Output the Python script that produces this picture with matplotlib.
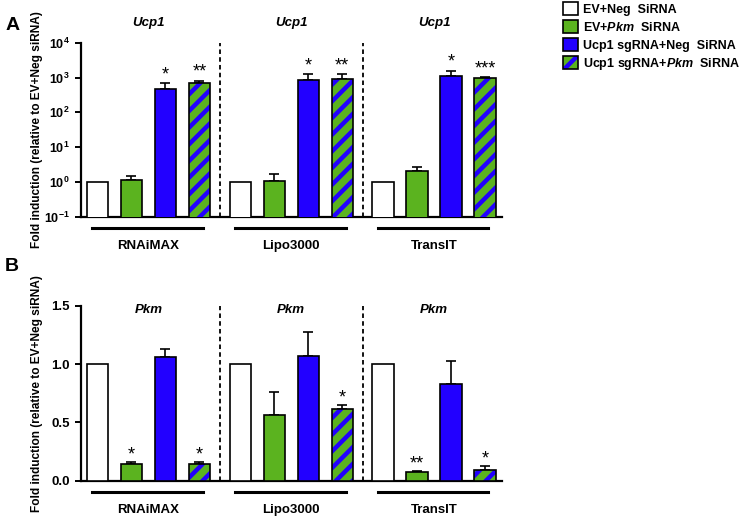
import numpy as np
import matplotlib
matplotlib.use('Agg')
import matplotlib.pyplot as plt
from matplotlib.patches import Patch
from matplotlib.legend_handler import HandlerTuple

plt.rcParams['font.family'] = ['Liberation Sans', 'DejaVu Sans']
plt.rcParams['mathtext.fontset'] = 'custom'
plt.rcParams['mathtext.rm'] = 'Liberation Sans:bold'
plt.rcParams['mathtext.bf'] = 'Liberation Sans:bold'
plt.rcParams['mathtext.it'] = 'Liberation Sans:italic:bold'
plt.rcParams['hatch.linewidth'] = 3.2
plt.rcParams['hatch.color'] = '#2200FF'

groups = ['RNAiMAX', 'Lipo3000', 'TransIT']
series = ['EV+Neg  SiRNA', r'EV+$\mathit{Pkm}$  SiRNA',
          'Ucp1 sgRNA+Neg  SiRNA', r'Ucp1 sgRNA+$\mathit{Pkm}$  SiRNA']

# Ucp1 expression (panel A), mean and SEM per group
ucp1_mean = [[1.0, 1.13, 468, 680],
             [1.0, 1.06, 850, 925],
             [1.0, 2.0, 1100, 985]]
ucp1_sem = [[0, 0.35, 212, 130],
            [0, 0.65, 410, 300],
            [0, 0.7, 480, 25]]
ucp1_stars = [['', '', '*', '**'],
              ['', '', '*', '**'],
              ['', '', '*', '***']]

# Pkm expression (panel B)
pkm_mean = [[1.0, 0.143, 1.063, 0.143],
            [1.0, 0.563, 1.069, 0.614],
            [1.0, 0.072, 0.829, 0.094]]
pkm_sem = [[0, 0.02, 0.065, 0.017],
           [0, 0.2, 0.208, 0.037],
           [0, 0.011, 0.2, 0.034]]
pkm_stars = [['', '*', '', '*'],
             ['', '', '', '*'],
             ['', '**', '', '*']]

GREEN = '#5BB31F'
BLUE = '#2200FF'
group_gap = 4.2
width = 0.62


def panel(ax, mean, sem, stars, gene, title_y, star_off):
	for g in range(len(groups)):
		x0 = g * group_gap
		xs = x0 + np.arange(4)
		m = mean[g]
		ax.bar(xs[0], m[0], width, color='white', edgecolor='black', lw=1.2, zorder=3)
		ax.bar(xs[1], m[1], width, color=GREEN, edgecolor='black', lw=1.2, zorder=3)
		ax.bar(xs[2], m[2], width, color=BLUE, edgecolor='black', lw=1.2, zorder=3)
		ax.bar(xs[3], m[3], width, color=GREEN, edgecolor=BLUE, hatch='//', lw=0, zorder=3)
		ax.bar(xs[3], m[3], width, color='none', edgecolor='black', lw=1.2, zorder=4)
		for i in range(4):
			if sem[g][i] > 0:
				ax.errorbar(xs[i], m[i], yerr=[[0], [sem[g][i]]], fmt='none', ecolor='black',
					elinewidth=1.2, capsize=3.5, capthick=1.2, zorder=2)
			if stars[g][i]:
				ax.annotate(stars[g][i], (xs[i], m[i] + sem[g][i]), xytext=(0, star_off),
					textcoords='offset points', ha='center', va='bottom', fontsize=13)
		cx = x0 + 1.5
		ax.text(cx, title_y, gene, transform=ax.get_xaxis_transform(), ha='center', va='center',
			fontsize=9.5, fontweight='bold', style='italic')
		ax.plot([x0 - 0.15, x0 + 3.1], [-0.063, -0.063], color='black', lw=2.2,
			transform=ax.get_xaxis_transform(), clip_on=False)
		ax.text(cx, -0.168, groups[g], transform=ax.get_xaxis_transform(), ha='center', va='center',
			fontsize=9.5, fontweight='bold')
		if g > 0:
			ax.axvline(x0 - 0.6, color='black', lw=1.3, ls=(0, (2.5, 1.8)), zorder=1)
	ax.set_xlim(-0.485, 11.89)
	ax.set_xticks([])
	for s in ['top', 'right']:
		ax.spines[s].set_visible(False)
	ax.spines['left'].set_linewidth(1.6)
	ax.spines['bottom'].set_linewidth(1.6)
	ax.tick_params(axis='y', which='major', direction='out', length=4.5, width=1.4, labelsize=9.5)
	ax.tick_params(axis='y', which='minor', length=0)
	ax.set_ylabel('Fold induction (relative to EV+Neg siRNA)', fontsize=8.6, fontweight='bold', va='center')
	ax.yaxis.set_label_coords(-0.104, 0.5)
	for lab in ax.get_yticklabels():
		lab.set_fontweight('bold')


fig = plt.figure(figsize=(7.47, 5.26), dpi=100)
axA = fig.add_axes([0.1084, 0.588, 0.5632, 0.3308])
axB = fig.add_axes([0.1084, 0.0861, 0.5632, 0.3327])

axA.set_yscale('log')
axA.set_ylim(0.1, 1e4)
axA.set_yticks([0.1, 1, 10, 100, 1000, 10000])
axA.set_yticklabels([r'$\mathbf{10^{-1}}$', r'$\mathbf{10^{0}}$', r'$\mathbf{10^{1}}$',
	r'$\mathbf{10^{2}}$', r'$\mathbf{10^{3}}$', r'$\mathbf{10^{4}}$'])
panel(axA, ucp1_mean, ucp1_sem, ucp1_stars, 'Ucp1', 1.113, 0)
axA.tick_params(axis='y', labelsize=9)

axB.set_ylim(0, 1.5)
axB.set_yticks([0.0, 0.5, 1.0, 1.5])
axB.set_yticklabels(['0.0', '0.5', '1.0', '1.5'])
panel(axB, pkm_mean, pkm_sem, pkm_stars, 'Pkm', 0.975, -1)

fig.text(0.008, 0.952, 'A', fontsize=14, fontweight='bold', va='center')
fig.text(0.006, 0.494, 'B', fontsize=14, fontweight='bold', va='center')

h1 = Patch(facecolor='white', edgecolor='black', lw=1.2)
h2 = Patch(facecolor=GREEN, edgecolor='black', lw=1.2)
h3 = Patch(facecolor=BLUE, edgecolor='black', lw=1.2)
h4a = Patch(facecolor=GREEN, edgecolor=BLUE, hatch='//', lw=0)
h4b = Patch(facecolor='none', edgecolor='black', lw=1.2)
fig.legend([h1, h2, h3, (h4a, h4b)], series, loc='upper left', bbox_to_anchor=(0.745, 1.008),
	frameon=False, borderpad=0, handler_map={tuple: HandlerTuple(ndivide=1)},
	prop={'weight': 'bold', 'size': 9}, handlelength=1.2, handleheight=1.2,
	labelspacing=0.35, handletextpad=0.4)

plt.savefig('out.png', dpi=100)
